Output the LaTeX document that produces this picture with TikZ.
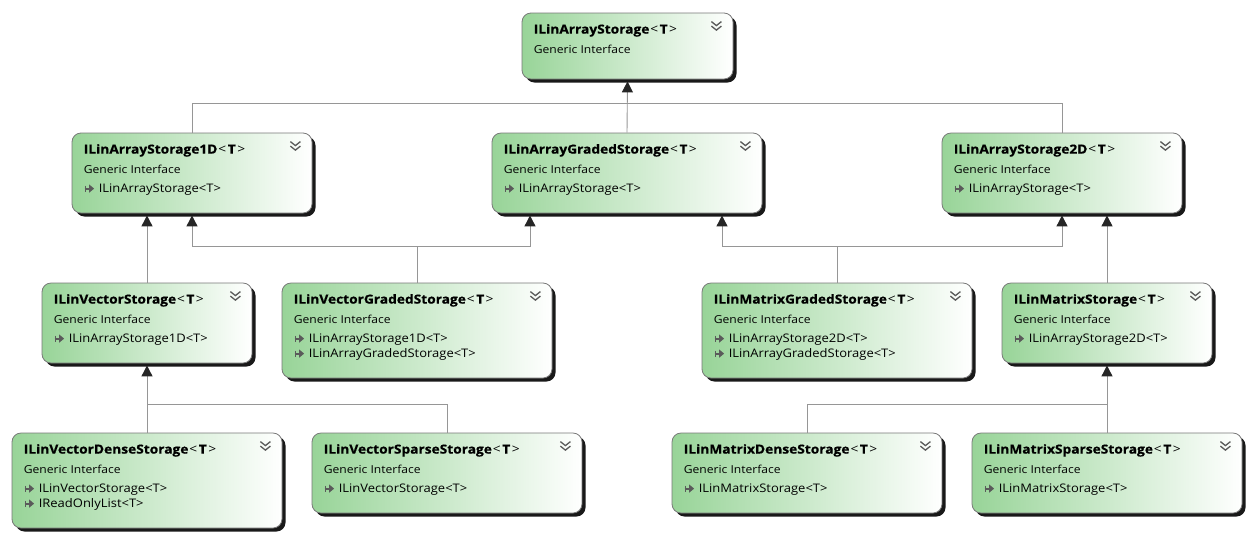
\documentclass[tikz,border=0pt]{standalone}
\usepackage{fontspec}
\setmainfont{Open Sans}[FakeStretch=1.1, BoldFeatures={FakeBold=0.7}]
\usetikzlibrary{calc,shadows,arrows.meta}
\definecolor{boxgreen}{RGB}{152,212,152}
\definecolor{boxborder}{RGB}{120,120,120}
\definecolor{connc}{RGB}{150,150,150}
\definecolor{icong}{RGB}{90,90,90}
\tikzset{
  ubox/.style={draw=boxborder, line width=0.8pt, rounded corners=9pt, left color=boxgreen, right color=white,
    inner sep=0pt, drop shadow={shadow xshift=3.5pt, shadow yshift=-3.5pt, fill=black!90, opacity=1}},
  ttl/.style={inner sep=0pt, font=\fontsize{12.5}{15}\selectfont\bfseries},
  sub/.style={inner sep=0pt, font=\fontsize{11}{14}\selectfont},
  itm/.style={inner sep=0pt, font=\fontsize{11.8}{13}\selectfont},
  chevl/.style={draw=icong, line width=1.3pt},
  conn/.style={draw=connc, line width=0.9pt},
  inh/.style={conn, -{Triangle[width=11pt,length=11pt,fill=black!85,color=black!85]}},
}
\newcommand{\ubox}[6]{%
  \node[ubox, minimum width=#4pt, minimum height=#5pt] (#1) at (#2,#3) {};
  \node[ttl, anchor=base west] (#1-t) at ($(#1.north west)+(12,21)$) {#6\kern1pt\mdseries<\kern1.5pt\bfseries T\kern1.5pt\mdseries>};
  \node[sub, anchor=base west] (#1-s) at ($(#1.north west)+(12,41)$) {Generic Interface};
  \draw[chevl] ($(#1.north east)+(-22,9)$) -- ++(5,4) -- ++(5,-4);
  \draw[chevl] ($(#1.north east)+(-22,13.5)$) -- ++(5,4) -- ++(5,-4);
}
\newcommand{\uitem}[3]{%
  \coordinate (#1-c#2) at ($(#1.north west)+(13,{56+15*(#2-1)})$);
  \draw[icong, line width=1pt] ($(#1-c#2)+(0.5,-3)$) -- ++(0,6);
  \draw[icong, line width=2.2pt, -{Triangle[length=5pt,width=8pt]}] (#1-c#2) -- ++(9.5,0);
  \node[itm, anchor=base west] (#1-i#2) at ($(#1.north west)+(27,{60+15*(#2-1)})$) {#3};
}
\begin{document}
\begin{tikzpicture}[x=1pt,y=-1pt]
\useasboundingbox (0,0) rectangle (1254,542);
% boxes
\ubox{A}{627.5}{46}{211}{66}{ILinArrayStorage}
\ubox{B1}{192}{173}{240}{80}{ILinArrayStorage1D}
\uitem{B1}{1}{ILinArrayStorage<T>}
\ubox{B2}{627}{173}{270}{80}{ILinArrayGradedStorage}
\uitem{B2}{1}{ILinArrayStorage<T>}
\ubox{B3}{1062}{173}{240}{80}{ILinArrayStorage2D}
\uitem{B3}{1}{ILinArrayStorage<T>}
\ubox{C1}{147}{323}{210}{80}{ILinVectorStorage}
\uitem{C1}{1}{ILinArrayStorage1D<T>}
\ubox{C2}{417}{330.5}{270}{95}{ILinVectorGradedStorage}
\uitem{C2}{1}{ILinArrayStorage1D<T>}
\uitem{C2}{2}{ILinArrayGradedStorage<T>}
\ubox{C3}{837}{330.5}{270}{95}{ILinMatrixGradedStorage}
\uitem{C3}{1}{ILinArrayStorage2D<T>}
\uitem{C3}{2}{ILinArrayGradedStorage<T>}
\ubox{C4}{1107}{323}{210}{80}{ILinMatrixStorage}
\uitem{C4}{1}{ILinArrayStorage2D<T>}
\ubox{D1}{147}{480.5}{270}{95}{ILinVectorDenseStorage}
\uitem{D1}{1}{ILinVectorStorage<T>}
\uitem{D1}{2}{IReadOnlyList<T>}
\ubox{D2}{447}{473}{270}{80}{ILinVectorSparseStorage}
\uitem{D2}{1}{ILinVectorStorage<T>}
\ubox{D3}{807}{473}{270}{80}{ILinMatrixDenseStorage}
\uitem{D3}{1}{ILinMatrixStorage<T>}
\ubox{D4}{1107}{473}{270}{80}{ILinMatrixSparseStorage}
\uitem{D4}{1}{ILinMatrixStorage<T>}
% bus coordinates
\coordinate (bus0) at (0,103);
\coordinate (bus1) at (0,246);
\coordinate (bus2) at (0,404);
\coordinate (B2a) at ($(B2.south)+(-97,2)$);
\coordinate (B2b) at ($(B2.south)+(95,2)$);
% top level
\draw[conn] (B1.north) |- (B3.north |- bus0) -- (B3.north);
\draw[inh] (B2.north) -- ($(A.south)+(0,2)$);
% level 2 -> 1
\draw[inh] (C1.north) -- ($(C1.north |- B1.south)+(0,2)$);
\draw[inh] (C2.north) -- (C2.north |- bus1) -| ($(B1.south)+(0,2)$);
\draw[inh] (C2.north |- bus1) -| (B2a);
\draw[inh] (C3.north) -- (C3.north |- bus1) -| (B2b);
\draw[inh] (C3.north |- bus1) -| ($(B3.south)+(0,2)$);
\draw[inh] (C4.north) -- ($(C4.north |- B3.south)+(0,2)$);
% level 3 -> 2
\draw[inh] (D2.north) |- (D1.north |- bus2) -- ($(C1.south)+(0,2)$);
\draw[conn] (D1.north) -- (D1.north |- bus2);
\draw[inh] (D3.north) |- (D4.north |- bus2) -- ($(C4.south)+(0,2)$);
\draw[conn] (D4.north) -- (D4.north |- bus2);
\end{tikzpicture}
\end{document}
